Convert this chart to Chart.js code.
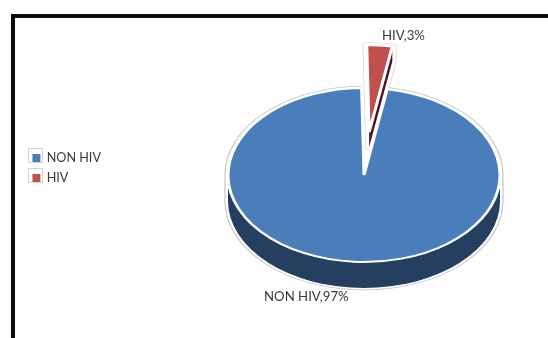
<!DOCTYPE html>
<html>
<head>
<meta charset="utf-8">
<title>HIV share</title>
<style>
    html, body { margin: 0; background: #fff; }
    #frame { position: absolute; left: 11px; top: 14px; right: 0; bottom: 0; border-left: 4px solid #0a0a0a; border-top: 4px solid #0a0a0a; }
    #chart { position: absolute; left: 0; top: 0; }
</style>
<script src="https://cdn.jsdelivr.net/npm/chart.js@4/dist/chart.umd.min.js"></script>
</head>
<body>
<div id="frame"></div>
<canvas id="chart" width="548" height="338"></canvas>
<script>
const categories = ['NON HIV', 'HIV'];
const shares = [97, 3];
const sliceColors = ['#4a7ebb', '#c0504d'];
const sideColors = ['#243f60', '#4a1420'];

const fontFamily = "Lato, sans-serif";
const textColor = '#3a3a3a';

// Flattened pie: tilt squashes y, depth is the height of the side wall
const pie = { cx: 364, cy: 175, tilt: 0.64, depth: 26, sliceDepth: 15, explode: 67 };
const labelSpots = [{ x: 264, y: 297 }, { x: 382, y: 36 }];

function wedgePath(ctx, arc, r) {
    ctx.beginPath();
    ctx.moveTo(arc.x, arc.y);
    ctx.arc(arc.x, arc.y, r, arc.startAngle, arc.endAngle);
    ctx.closePath();
}

const pie3d = {
    id: 'pie3d',
    beforeDatasetDraw(chart) {
        const ctx = chart.ctx;
        const arcs = chart.getDatasetMeta(0).data;
        const body = arcs[0];
        const hiv = arcs[1];
        const drop = pie.depth / pie.tilt;
        const sliceDrop = pie.sliceDepth / pie.tilt;
        const mid = (hiv.startAngle + hiv.endAngle) / 2;
        const shiftX = Math.cos(mid) * pie.explode;
        const shiftY = Math.sin(mid) * pie.explode;

        ctx.save();
        ctx.translate(pie.cx, pie.cy);
        ctx.scale(1, pie.tilt);
        ctx.translate(-body.x, -body.y);

        // outer halo round the whole pie, top and wall together
        const r = body.outerRadius;
        ctx.beginPath();
        ctx.arc(body.x, body.y + drop, r + 3, 0, Math.PI);
        ctx.arc(body.x, body.y, r + 3, Math.PI, Math.PI * 2);
        ctx.closePath();
        ctx.fillStyle = '#fff';
        ctx.fill();
        ctx.strokeStyle = '#c9c5c0';
        ctx.lineWidth = 1.2;
        ctx.stroke();

        // side wall of the main slice
        ctx.beginPath();
        ctx.arc(body.x, body.y + drop, r, 0, Math.PI);
        ctx.arc(body.x, body.y, r, Math.PI, 0, true);
        ctx.closePath();
        ctx.fillStyle = sideColors[0];
        ctx.fill();

        // the gap left behind by the pulled-out slice
        wedgePath(ctx, hiv, r + 5);
        ctx.fillStyle = '#fff';
        ctx.fill();

        // pulled-out slice: halo, then its cut face
        ctx.save();
        ctx.translate(shiftX, shiftY);
        const endX = hiv.x + Math.cos(hiv.endAngle) * r;
        const endY = hiv.y + Math.sin(hiv.endAngle) * r;
        ctx.beginPath();
        ctx.moveTo(hiv.x, hiv.y);
        ctx.arc(hiv.x, hiv.y, r, hiv.startAngle, hiv.endAngle);
        ctx.lineTo(endX, endY + sliceDrop);
        ctx.lineTo(hiv.x, hiv.y + sliceDrop);
        ctx.closePath();
        ctx.lineJoin = 'round';
        ctx.strokeStyle = '#d8d5d1';
        ctx.lineWidth = 8.5;
        ctx.stroke();
        ctx.strokeStyle = '#fff';
        ctx.lineWidth = 7;
        ctx.stroke();
        ctx.fillStyle = '#fff';
        ctx.fill();
        ctx.beginPath();
        ctx.moveTo(hiv.x, hiv.y);
        ctx.lineTo(endX, endY);
        ctx.lineTo(endX, endY + sliceDrop);
        ctx.lineTo(hiv.x, hiv.y + sliceDrop);
        ctx.closePath();
        ctx.fillStyle = sideColors[1];
        ctx.fill();
        ctx.restore();

        // top faces through the library's own arc elements
        body.draw(ctx);
        ctx.translate(shiftX, shiftY);
        hiv.draw(ctx);
        ctx.restore();
        return false;
    },
    afterDraw(chart) {
        const ctx = chart.ctx;
        ctx.save();

        // slice captions
        ctx.font = '13.2px ' + fontFamily;
        ctx.fillStyle = textColor;
        ctx.textBaseline = 'middle';
        categories.forEach((name, i) => {
            ctx.fillText(name + ',' + shares[i] + '%', labelSpots[i].x, labelSpots[i].y);
        });

        // thin box round each legend swatch
        ctx.strokeStyle = '#d4d4d4';
        ctx.lineWidth = 1;
        chart.legend.legendHitBoxes.forEach(box => {
            const size = chart.legend.options.labels.boxWidth;
            ctx.strokeRect(Math.round(box.left) - 3.5, Math.round(box.top) - 3.5, size + 6, size + 6);
        });
        ctx.restore();
    }
};

new Chart(document.getElementById('chart'), {
    type: 'pie',
    data: {
        labels: categories,
        datasets: [{
            data: shares,
            backgroundColor: sliceColors,
            borderColor: '#fff',
            borderWidth: 3
        }]
    },
    options: {
        responsive: false,
        animation: false,
        radius: 136,
        rotation: 9.8,
        layout: { padding: { left: 25, bottom: 2 } },
        plugins: {
            tooltip: { enabled: false },
            legend: {
                position: 'left',
                labels: {
                    boxWidth: 8,
                    boxHeight: 8,
                    padding: 7.4,
                    color: textColor,
                    font: { family: fontFamily, size: 12.6 },
                    // plain swatches, the slices' white border is not wanted here
                    generateLabels(chart) {
                        return Chart.overrides.pie.plugins.legend.labels.generateLabels(chart)
                            .map(item => ({ ...item, lineWidth: 0 }));
                    }
                }
            }
        }
    },
    plugins: [pie3d]
});
</script>
</body>
</html>
